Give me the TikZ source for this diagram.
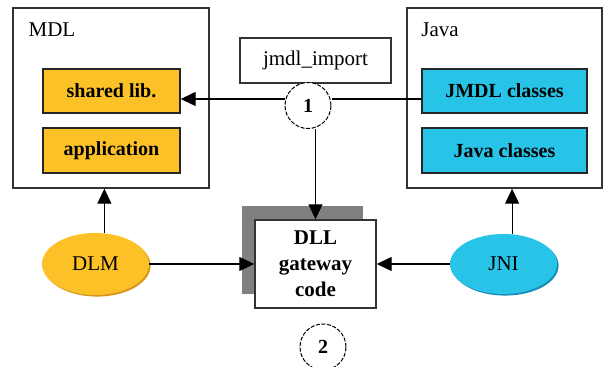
\documentclass[tikz,border=0pt]{standalone}
\usepackage{fontspec}
\setmainfont{Liberation Serif}
\usetikzlibrary{arrows.meta,shapes.geometric,shadows}

\definecolor{mdlorange}{RGB}{253,193,40}
\definecolor{mdlrim}{RGB}{214,150,30}
\definecolor{javacyan}{RGB}{40,196,232}
\definecolor{javarim}{RGB}{25,140,190}
\definecolor{gateshadow}{RGB}{126,128,130}

\tikzset{
    frame/.style={draw=black!80,line width=0.7pt,inner sep=0pt},
    part/.style={draw=black!85,line width=0.7pt,inner sep=0pt,font=\bfseries},
    tag/.style={circle,draw,dash pattern=on 2pt off 0.8pt,line width=0.5pt,fill=white,
        minimum size=23pt,inner sep=0pt,font=\bfseries},
    blob/.style={ellipse,inner sep=0pt,minimum width=53.5pt},
    link/.style={line width=0.6pt,>={Triangle[length=7.5pt,width=7pt]}}
}

\begin{document}
\begin{tikzpicture}[x=0.5pt,y=-0.5pt,font=\fontsize{10.5}{13}\selectfont]
    \useasboundingbox (0,0) rectangle (606,367);

    % left side: MDL
    \node[frame,minimum width=98pt,minimum height=90pt] (mdl) at (111,98) {};
    \node (mdllabel) at (52,30) {MDL};
    \node[part,fill=mdlorange,minimum width=68.5pt,minimum height=22pt] (shlib) at (111.5,91) {shared lib.};
    \node[part,fill=mdlorange,minimum width=68.5pt,minimum height=22.5pt] (app) at (111.5,150.5) {application};

    % right side: Java
    \node[frame,minimum width=97.5pt,minimum height=90pt] (java) at (504.5,98) {};
    \node (javalabel) at (440,30) {Java};
    \node[part,fill=javacyan,minimum width=82.5pt,minimum height=22pt] (jmdl) at (504.5,91) {JMDL classes};
    \node[part,fill=javacyan,minimum width=82.5pt,minimum height=22.5pt] (jcls) at (504.5,150.5) {Java classes};

    % middle
    \node[frame,minimum width=75.5pt,minimum height=22.5pt] (imp) at (315.5,60.5) {jmdl\_import};
    \node[tag] (one) at (308,105.5) {1};
    \coordinate (tap) at (308,99);

    \node[frame,fill=white,align=center,font=\fontsize{10.5}{13}\selectfont\bfseries,
        minimum width=60.5pt,minimum height=44pt,
        general shadow={fill=gateshadow,shadow xshift=-6.5pt,shadow yshift=7pt}] (dll) at (315.5,264) {DLL\\gateway\\code};

    \node[blob,fill=mdlorange,minimum height=31pt,
        general shadow={fill=mdlrim,shadow xshift=0.8pt,shadow yshift=-0.8pt}] (dlm) at (95.5,264) {DLM};
    \node[blob,fill=javacyan,minimum height=30pt,
        general shadow={fill=javarim,shadow xshift=0.8pt,shadow yshift=-0.8pt}] (jni) at (503.5,264) {JNI};

    \node[tag] (two) at (323,347) {2};

    % connectors
    \draw[link] (jmdl.west |- tap) -- (one.east |- tap);
    \draw[link,->] (one.west |- tap) -- (shlib.east |- tap);
    \draw[link,->] (one.south -| dll.north) -- (dll.north);
    \draw[link,->] (dlm.east) -- (dll.west);
    \draw[link,->] (jni.west) -- (dll.east);
    \draw[link,->] (dlm.74) -- (dlm.74 |- mdl.south);
    \draw[link,->] (jni.74) -- (jni.74 |- java.south);
\end{tikzpicture}
\end{document}
